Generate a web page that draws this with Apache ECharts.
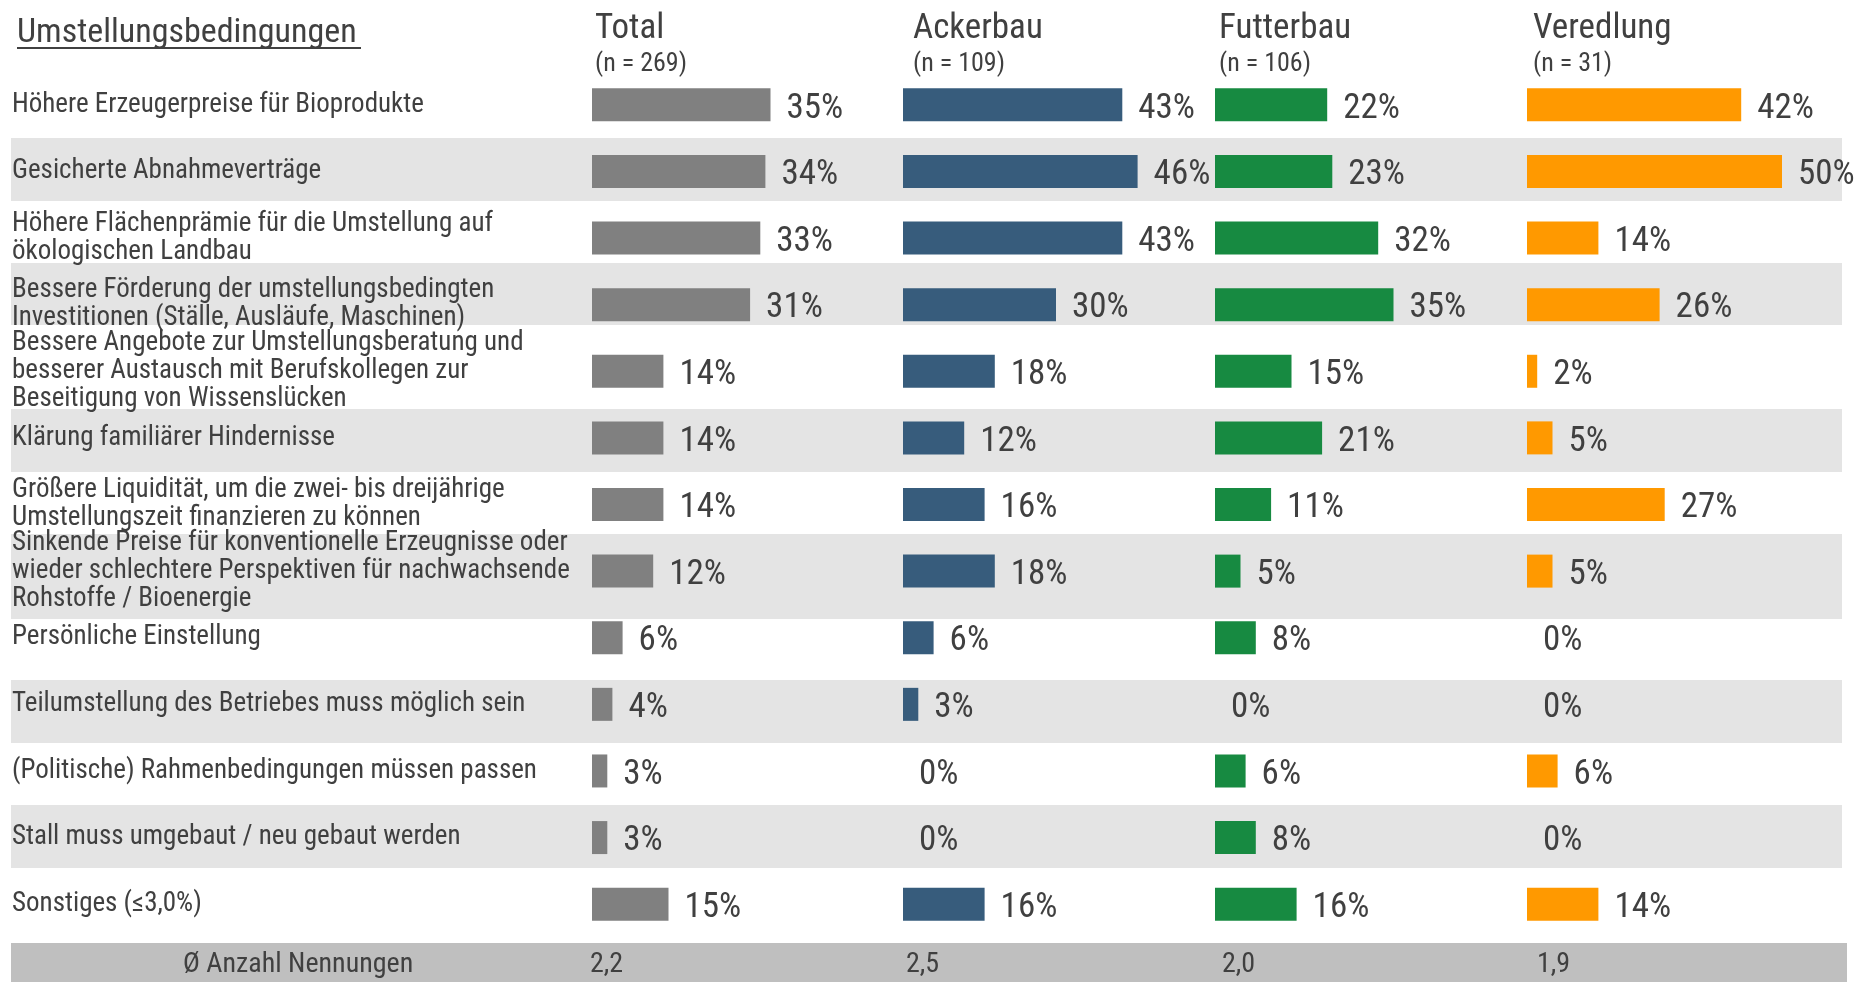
<!DOCTYPE html>
<html>
<head>
<meta charset="utf-8">
<title>Umstellungsbedingungen</title>
<script src="https://cdn.jsdelivr.net/npm/echarts@6/dist/echarts.min.js"></script>
<style>
  html, body { margin: 0; padding: 0; background: #fff; }
  #main { width: 1856px; height: 982px; }
</style>
</head>
<body>
<div id="main"></div>
<script>
// categories (top to bottom)
const categories = [
  'Höhere Erzeugerpreise für Bioprodukte',
  'Gesicherte Abnahmeverträge',
  'Höhere Flächenprämie für die Umstellung auf\nökologischen Landbau',
  'Bessere Förderung der umstellungsbedingten\nInvestitionen (Ställe, Ausläufe, Maschinen)',
  'Bessere Angebote zur Umstellungsberatung und\nbesserer Austausch mit Berufskollegen zur\nBeseitigung von Wissenslücken',
  'Klärung familiärer Hindernisse',
  'Größere Liquidität, um die zwei- bis dreijährige\nUmstellungszeit finanzieren zu können',
  'Sinkende Preise für konventionelle Erzeugnisse oder\nwieder schlechtere Perspektiven für nachwachsende\nRohstoffe / Bioenergie',
  'Persönliche Einstellung',
  'Teilumstellung des Betriebes muss möglich sein',
  '(Politische) Rahmenbedingungen müssen passen',
  'Stall muss umgebaut / neu gebaut werden',
  'Sonstiges (≤3,0%)'
];

// share of mentions in %
const total     = [35, 34, 33, 31, 14, 14, 14, 12, 6, 4, 3, 3, 15];
const ackerbau  = [43, 46, 43, 30, 18, 12, 16, 18, 6, 3, 0, 0, 16];
const futterbau = [22, 23, 32, 35, 15, 21, 11, 5, 8, 0, 6, 8, 16];
const veredlung = [42, 50, 14, 26, 2, 5, 27, 5, 0, 0, 6, 0, 14];

const groupNames = ['Total', 'Ackerbau', 'Futterbau', 'Veredlung'];
const groupN = [269, 109, 106, 31];
const avgMentions = ['2,2', '2,5', '2,0', '1,9'];

const FONT = "'Liberation Sans Narrow', 'Arial Narrow', 'Roboto Condensed', sans-serif";
const TXT = '#404040';
const colors = ['#808080', '#375c7c', '#178a41', '#ff9900'];
const colLeft = [592, 903, 1215, 1527];
const headX = [595, 913, 1219, 1533];
const footX = [590, 906, 1222, 1537];
// row band edges (background stripes, layout only)
const bandEdges = [76, 138, 201, 263, 325, 409, 472, 534, 619, 680, 743, 805, 868, 942];
const seriesData = [total, ackerbau, futterbau, veredlung];

const TOP = 71.5, H = 866;

const chart = echarts.init(document.getElementById('main'));

let grids = [{ left: 10, right: 14, top: TOP, height: H }];
let xAxes = [{ gridIndex: 0, type: 'value', min: 0, max: 1, show: false }];
let yAxes = [{
  gridIndex: 0, type: 'category', data: categories, inverse: true,
  axisLine: { show: false }, axisTick: { show: false },
  axisLabel: {
    inside: true, margin: 2, fontSize: 27, lineHeight: 28, color: TXT,
    fontFamily: FONT, padding: [6, 0, 0, 0]
  }
}];
let series = [];
let titles = [];

seriesData.forEach((d, i) => {
  let g = i + 1;
  grids.push({ left: colLeft[i], width: 306, top: TOP, height: H });
  xAxes.push({ gridIndex: g, type: 'value', min: 0, max: 60, show: false });
  yAxes.push({ gridIndex: g, type: 'category', data: categories, inverse: true, show: false });
  series.push({
    type: 'bar', xAxisIndex: g, yAxisIndex: g, data: d, barWidth: 33,
    itemStyle: { color: colors[i] },
    label: {
      show: true, position: 'right', distance: 16, offset: [0, 4], formatter: '{c}%',
      fontSize: 35, color: TXT, fontFamily: FONT
    }
  });
  titles.push({
    text: groupNames[i], subtext: '(n = ' + groupN[i] + ')',
    left: headX[i], top: 12, padding: 0, itemGap: 4,
    textStyle: { fontSize: 35, fontWeight: 'normal', color: TXT, fontFamily: FONT },
    subtextStyle: { fontSize: 26, color: TXT, fontFamily: FONT }
  });
});

let graphics = [];
for (let r = 1; r < bandEdges.length - 1; r += 2) {
  graphics.push({ type: 'rect', left: 11, top: bandEdges[r], z: -10,
    shape: { width: 1831, height: bandEdges[r + 1] - bandEdges[r] }, style: { fill: '#e4e4e4' } });
}
graphics.push(
  { type: 'text', left: 17, top: 16,
    style: { text: 'Umstellungsbedingungen', fontSize: 34, fill: TXT, fontFamily: FONT } },
  { type: 'rect', left: 17, top: 47, shape: { width: 344, height: 2 }, style: { fill: TXT } },
  { type: 'rect', left: 11, top: 943, shape: { width: 1836, height: 39 }, style: { fill: '#bfbfbf' } },
  { type: 'text', left: 183, top: 951,
    style: { text: 'Ø Anzahl Nennungen', fontSize: 28, fill: TXT, fontFamily: FONT } }
);
avgMentions.forEach((v, i) => {
  graphics.push({ type: 'text', left: footX[i], top: 951,
    style: { text: v, fontSize: 28, fill: TXT, fontFamily: FONT } });
});

chart.setOption({
  animation: false,
  textStyle: { fontFamily: FONT },
  title: titles,
  grid: grids,
  xAxis: xAxes,
  yAxis: yAxes,
  series: series,
  graphic: graphics
});
</script>
</body>
</html>
